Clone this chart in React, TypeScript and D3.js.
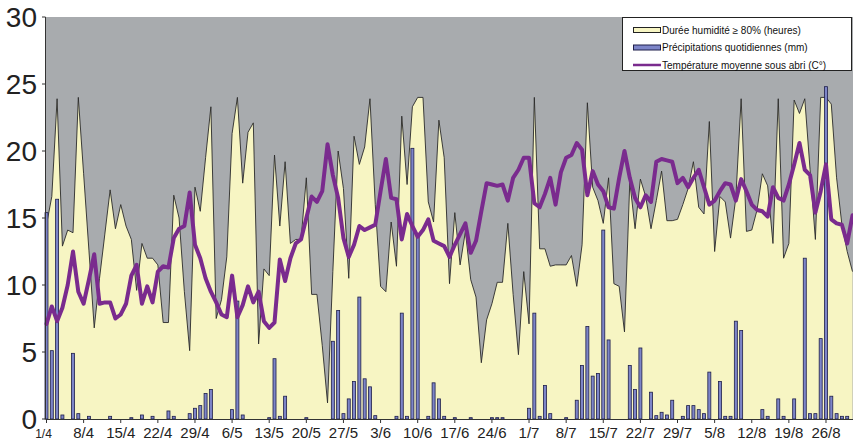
import React, { useEffect, useRef } from 'react';
import * as d3 from 'd3';

// daily values from 1/4 to 31/8
const humidity = [
  14.5, 16.6, 23.9, 12.9, 14.1, 13.9, 24, 18.3, 12.6, 6.8,
  10.5, 13.8, 17.1, 14.2, 16, 14.4, 13.4, 9.6, 13.1, 12,
  12, 11.5, 7.2, 7.2, 16.7, 15, 9.5, 5.1, 17.3, 15.5,
  19.5, 23.3, 7.5, 8.9, 12.1, 21.3, 24, 17.6, 21.4, 22.1,
  5.6, 11.2, 10.7, 19.7, 14.4, 19.2, 13.1, 13.4, 13.4, 18,
  9.3, 9.3, 5.5, 1.2, 11, 20, 17.2, 10.5, 21.1, 19,
  20.3, 23.9, 16, 9.9, 9.5, 14.7, 11.4, 22.6, 17.5, 23.3,
  24, 24, 16.2, 14.7, 22.3, 19.5, 10.1, 15.4, 11.5, 14,
  10.4, 9.1, 4.2, 7.4, 8.6, 10.2, 10.2, 14.6, 9.3, 4.8,
  11, 7.1, 24, 12.7, 12.7, 11.4, 11.5, 11.5, 11.5, 12.2,
  9.9, 13, 23.6, 17.3, 16.3, 14.6, 18, 10.1, 9.9, 6.5,
  17.7, 14.2, 17.9, 16.6, 14.2, 16.3, 18.5, 14.8, 14.8, 14.9,
  16, 17.2, 19.2, 15.8, 15.3, 22.2, 12.5, 16.6, 16.2, 13.5,
  16.5, 23.9, 14, 14.1, 15.6, 18.3, 17.4, 13.1, 23.9, 12,
  13.1, 23.8, 22.8, 23.9, 18.6, 13.4, 24, 24, 23.5, 18,
  14.5, 12.5, 11,
];

const precipitation = [
  15.4, 5.1, 16.4, 0.3, 0, 4.9, 0.4, 0, 0.2, 0,
  0, 0, 0.2, 0, 0, 0, 0.1, 0, 0.3, 0,
  0.2, 0, 0, 0.6, 0.2, 0, 0, 0.4, 0.8, 1.0,
  1.9, 2.2, 0, 0, 0, 0.7, 8.8, 0.3, 0, 0,
  0, 0, 0.1, 4.5, 0.2, 1.7, 0, 0, 0, 0.1,
  0, 0, 0, 0, 5.8, 8.1, 0.4, 1.5, 2.8, 9.1,
  3, 2.4, 0.25, 0, 0, 0, 0.2, 7.9, 0.2, 20.2,
  13.7, 0, 0.2, 2.7, 1.5, 0.2, 0, 0.1, 0, 0,
  0.1, 0, 0, 0, 0.1, 0.1, 0.1, 0, 0, 0,
  0, 0.8, 7.9, 0.2, 2.5, 0.4, 0, 0, 0.1, 0,
  1.4, 4, 6.9, 3.2, 3.4, 14.1, 5.9, 0, 0, 0,
  4, 2.2, 5.3, 0, 2, 0.25, 0.5, 0.3, 1.4, 0,
  0.2, 1, 1, 0.7, 0.4, 3.5, 0, 2.8, 0.2, 0.2,
  7.3, 6.6, 0, 0, 0, 0.7, 0.2, 0, 1.5, 0.2,
  0, 1.5, 0, 12, 0.4, 0.4, 6, 24.8, 1.7, 0.4,
  0.2, 0.2, 0,
];

const temperature = [
  7.1, 8.4, 7.3, 8.3, 10, 12.5, 9.5, 8.6, 10.4, 12.3,
  8.6, 8.7, 8.7, 7.5, 7.8, 8.6, 10.7, 11.5, 8.6, 9.9,
  8.7, 11, 11.4, 11.3, 13.5, 14.2, 14.4, 16.9, 13, 12,
  10.5, 9.5, 8.7, 7.8, 7.6, 10.7, 7.6, 8.5, 9.9, 8.7,
  9.5, 7.3, 6.8, 7.2, 11.9, 10.3, 12, 13.1, 13.4, 15,
  16.6, 16.2, 17, 20.5, 18.2, 16.5, 13.5, 12.1, 13, 14.4,
  14.1, 14.3, 14.5, 17, 19.4, 16.5, 16.4, 13.4, 15.3, 14.4,
  13.6, 14.1, 14.9, 13.3, 13.1, 12.9, 12.1, 13, 13.8, 14.6,
  12.4, 13.3, 15.5, 17.6, 17.5, 17.4, 17.5, 16.3, 18, 18.6,
  19.5, 19.5, 16.1, 15.8, 16.8, 18, 16, 18.4, 19.5, 19.7,
  20.6, 20.1, 16.7, 18.5, 17.5, 17, 15.8, 15.7, 18, 20,
  18, 16.5, 15.8, 16.7, 16.2, 19.2, 19.4, 19.3, 19.2, 17.6,
  18, 17.3, 18, 18.6, 17.3, 16, 16.3, 17, 17.6, 17.5,
  16.3, 17.9, 17, 16, 15.6, 15.5, 15.1, 17.3, 16.5, 16.3,
  17.5, 19, 20.6, 18.6, 18.2, 15.4, 17, 19, 14.9, 14.6,
  14.5, 13.1, 15.2,
];

// one label every 7 days
const tickLabels = [
  '1/4', '8/4', '15/4', '22/4', '29/4', '6/5', '13/5', '20/5', '27/5', '3/6', '10/6',
  '17/6', '24/6', '1/7', '8/7', '15/7', '22/7', '29/7', '5/8', '12/8', '19/8', '26/8',
];
const yTicks = [0, 5, 10, 15, 20, 25, 30];

const legendLabels = [
  'Durée humidité ≥ 80% (heures)',
  'Précipitations quotidiennes (mm)',
  'Température moyenne sous abri (C°)',
];

const W = 853;
const H = 442;
const FONT = '"Liberation Sans", Arial, sans-serif';

const COLORS = {
  plot: '#a8abae',
  humid: '#f7f5c3',
  humidLine: '#2a2a2a',
  bar: '#7d85c8',
  barStroke: '#1e1e4a',
  temp: '#7a2b8e',
};

const App = () => {
  const svgRef = useRef<SVGSVGElement>(null);

  useEffect(() => {
    const svg = d3.select(svgRef.current);
    svg.selectAll('*').remove();

    const left = 45.5;
    const top = 17;
    const bottom = 419;

    const x = d3.scaleLinear().domain([0, humidity.length - 1]).range([46.5, 852.5]);
    const y = d3.scaleLinear().domain([0, 30]).range([bottom, top]);

    // plot background
    svg.append('rect')
      .attr('x', left)
      .attr('y', top)
      .attr('width', W - left)
      .attr('height', bottom - top)
      .attr('fill', COLORS.plot);

    // humidity area
    const area = d3.area<number>()
      .x((d, i) => x(i))
      .y0(y(0))
      .y1(d => y(d));
    svg.append('path')
      .datum(humidity)
      .attr('fill', COLORS.humid)
      .attr('d', area);

    const hLine = d3.line<number>().x((d, i) => x(i)).y(d => y(d));
    svg.append('path')
      .datum(humidity)
      .attr('fill', 'none')
      .attr('stroke', COLORS.humidLine)
      .attr('stroke-width', 0.9)
      .attr('d', hLine);

    // precipitation bars
    const bw = 3;
    svg.append('g')
      .selectAll('rect')
      .data(precipitation.map((v, i) => ({ v, i })).filter(d => d.v > 0))
      .enter().append('rect')
      .attr('x', d => x(d.i) - bw / 2)
      .attr('y', d => y(d.v))
      .attr('width', bw)
      .attr('height', d => Math.max(0.8, y(0) - y(d.v)))
      .attr('fill', COLORS.bar)
      .attr('stroke', COLORS.barStroke)
      .attr('stroke-width', 0.8);

    // temperature
    svg.append('path')
      .datum(temperature)
      .attr('fill', 'none')
      .attr('stroke', COLORS.temp)
      .attr('stroke-width', 4)
      .attr('stroke-linejoin', 'round')
      .attr('stroke-linecap', 'round')
      .attr('d', hLine);

    // axes
    svg.append('line')
      .attr('x1', left).attr('x2', left)
      .attr('y1', top).attr('y2', bottom)
      .attr('stroke', '#333').attr('stroke-width', 1);
    svg.append('line')
      .attr('x1', left).attr('x2', W)
      .attr('y1', bottom + 0.5).attr('y2', bottom + 0.5)
      .attr('stroke', '#333').attr('stroke-width', 1);

    const yAxis = svg.append('g');
    yTicks.forEach(t => {
      yAxis.append('line')
        .attr('x1', 42).attr('x2', left)
        .attr('y1', y(t)).attr('y2', y(t))
        .attr('stroke', '#333');
      yAxis.append('text')
        .attr('x', 37)
        .attr('y', y(t))
        .attr('dy', '0.36em')
        .attr('text-anchor', 'end')
        .style('font-family', FONT)
        .style('font-size', '28px')
        .style('fill', '#222')
        .text(t);
    });

    const xAxis = svg.append('g');
    tickLabels.forEach((lab, k) => {
      const xi = x(k * 7);
      xAxis.append('line')
        .attr('x1', xi).attr('x2', xi)
        .attr('y1', bottom).attr('y2', bottom + 4)
        .attr('stroke', '#333');
      xAxis.append('text')
        .attr('x', k === 0 ? xi - 3 : xi)
        .attr('y', 438)
        .attr('text-anchor', 'middle')
        .style('font-family', FONT)
        .style('font-size', k === 0 ? '12px' : '15px')
        .style('fill', '#222')
        .text(lab);
    });

    // legend
    const lg = svg.append('g');
    lg.append('rect')
      .attr('x', 622.5).attr('y', 17.5)
      .attr('width', 229).attr('height', 53)
      .attr('fill', '#fff')
      .attr('stroke', '#222');
    const rows = [30, 47.5, 65];
    lg.append('rect')
      .attr('x', 633.5).attr('y', rows[0] - 2.5)
      .attr('width', 27).attr('height', 5)
      .attr('fill', COLORS.humid).attr('stroke', '#222');
    lg.append('rect')
      .attr('x', 633.5).attr('y', rows[1] - 2.5)
      .attr('width', 27).attr('height', 5)
      .attr('fill', COLORS.bar).attr('stroke', COLORS.barStroke);
    lg.append('line')
      .attr('x1', 633).attr('x2', 661)
      .attr('y1', rows[2]).attr('y2', rows[2])
      .attr('stroke', COLORS.temp).attr('stroke-width', 2.5);
    legendLabels.forEach((lab, i) => {
      lg.append('text')
        .attr('x', 662)
        .attr('y', rows[i])
        .attr('dy', '0.35em')
        .style('font-family', FONT)
        .style('font-size', '10px')
        .style('fill', '#111')
        .text(lab);
    });
  }, []);

  return (
    <svg
      ref={svgRef}
      width={W}
      height={H}
      style={{ position: 'absolute', left: 0, top: 0, background: '#fff', display: 'block' }}
    />
  );
};

export default App;
